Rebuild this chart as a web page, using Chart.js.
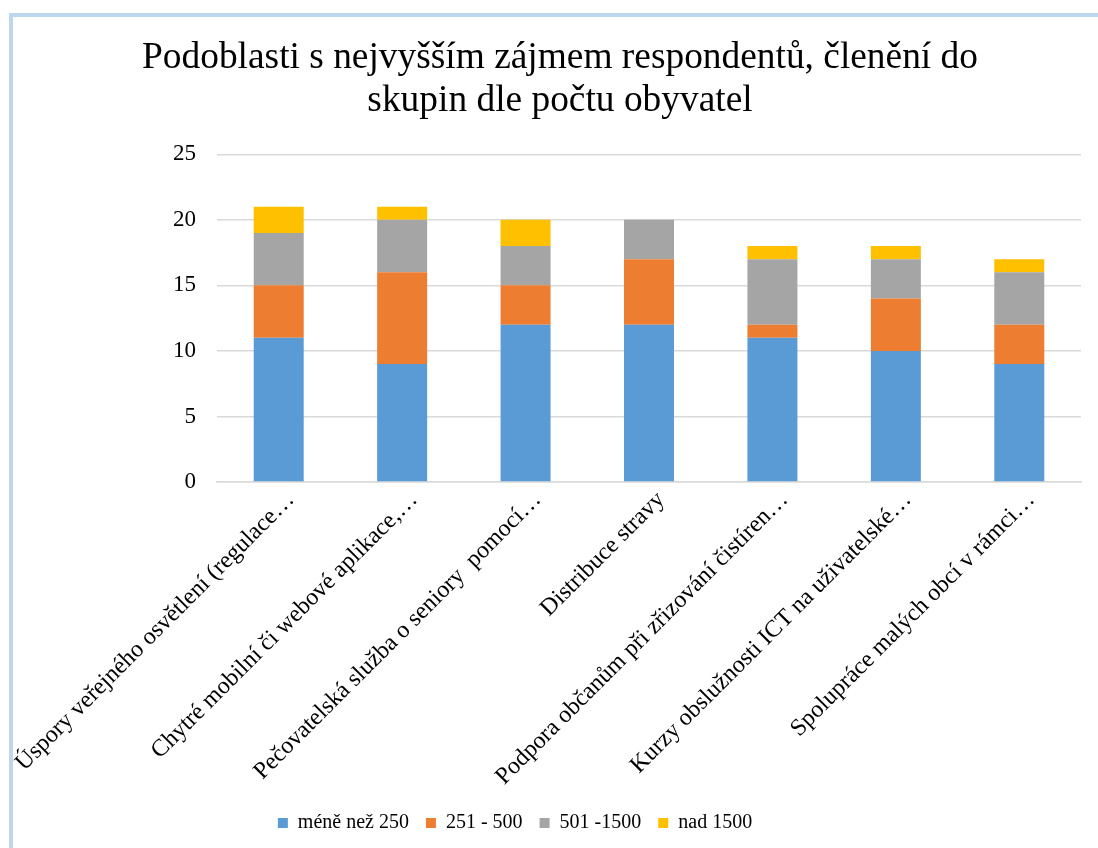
<!DOCTYPE html>
<html>
<head>
<meta charset="utf-8">
<script src="https://cdn.jsdelivr.net/npm/chart.js@4"></script>
<style>
    html, body { margin: 0; padding: 0; background: #fff; overflow: hidden; width: 1098px; height: 848px; }
    .frame { position: absolute; left: 9px; top: 13px; width: 1120px; height: 870px; border: 4px solid #bdd7ee; box-sizing: border-box; }
    .wrap { position: absolute; left: 13px; top: 17px; width: 1094px; height: 831px; }
</style>
</head>
<body>
<div class="frame"></div>
<div class="wrap"><canvas id="chart"></canvas></div>
<script>
const categories = [
    'Úspory veřejného osvětlení (regulace…',
    'Chytré mobilní či webové aplikace,…',
    'Pečovatelská služba o seniory  pomocí…',
    'Distribuce stravy',
    'Podpora občanům při zřizování čistíren…',
    'Kurzy obslužnosti ICT na uživatelské…',
    'Spolupráce malých obcí v rámci…'
];
const seriesNames = ['méně než 250', '251 - 500', '501 -1500', 'nad 1500'];
const under250 = [11, 9, 12, 12, 11, 10, 9];
const from251to500 = [4, 7, 3, 5, 1, 4, 3];
const from501to1500 = [4, 4, 3, 3, 5, 3, 4];
const over1500 = [2, 1, 2, 0, 1, 1, 1];
const yTicks = [0, 5, 10, 15, 20, 25];

const colors = ['#5b9bd5', '#ed7d31', '#a5a5a5', '#ffc000'];
const serif = 'Liberation Serif, Times New Roman, serif';

// legend sits left of the centre in the original, title is centred on the whole frame
const nudgeBoxes = {
    id: 'nudgeBoxes',
    afterLayout(chart) {
        chart.legend.left -= 32;
        chart.legend.right -= 32;
        chart.titleBlock.left += 13;
        chart.titleBlock.right += 13;
    }
};

const datasets = [under250, from251to500, from501to1500, over1500].map((values, i) => ({
    label: seriesNames[i],
    data: values,
    backgroundColor: colors[i],
    borderWidth: 0,
    barPercentage: 0.405,
    categoryPercentage: 1
}));

new Chart(document.getElementById('chart'), {
    type: 'bar',
    data: { labels: categories, datasets: datasets },
    plugins: [nudgeBoxes],
    options: {
        responsive: true,
        maintainAspectRatio: false,
        animation: false,
        layout: { padding: { left: 0, right: 26, top: 0, bottom: 5 } },
        plugins: {
            title: {
                display: true,
                text: ['Podoblasti s nejvyšším zájmem respondentů, členění do', 'skupin dle počtu obyvatel'],
                color: '#000',
                font: { family: serif, size: 37.4, weight: 'normal', lineHeight: 1.14 },
                padding: { top: 20, bottom: 32 }
            },
            legend: {
                position: 'bottom',
                labels: {
                    color: '#000',
                    font: { family: serif, size: 20 },
                    boxWidth: 10,
                    boxHeight: 10,
                    padding: 17
                }
            },
            tooltip: { enabled: false }
        },
        scales: {
            x: {
                stacked: true,
                grid: { display: false, drawTicks: false },
                border: { display: true, color: '#d9d9d9', width: 1.5 },
                ticks: {
                    color: '#000',
                    font: { family: serif, size: 24 },
                    autoSkip: false,
                    maxRotation: 45,
                    minRotation: 45,
                    padding: 4,
                    labelOffset: 12
                },
                afterFit: (scale) => {
                    scale.height = 314;
                    scale.paddingLeft = 0;
                    scale.paddingRight = 0;
                }
            },
            y: {
                stacked: true,
                min: 0,
                max: 25,
                grid: { color: '#d9d9d9', lineWidth: 1.5, drawTicks: false },
                border: { display: false },
                afterBuildTicks: (scale) => { scale.ticks = yTicks.map(v => ({ value: v })); },
                ticks: {
                    color: '#000',
                    font: { family: serif, size: 23 },
                    padding: 21
                },
                afterFit: (scale) => { scale.width = 204; }
            }
        }
    }
});
</script>
</body>
</html>
